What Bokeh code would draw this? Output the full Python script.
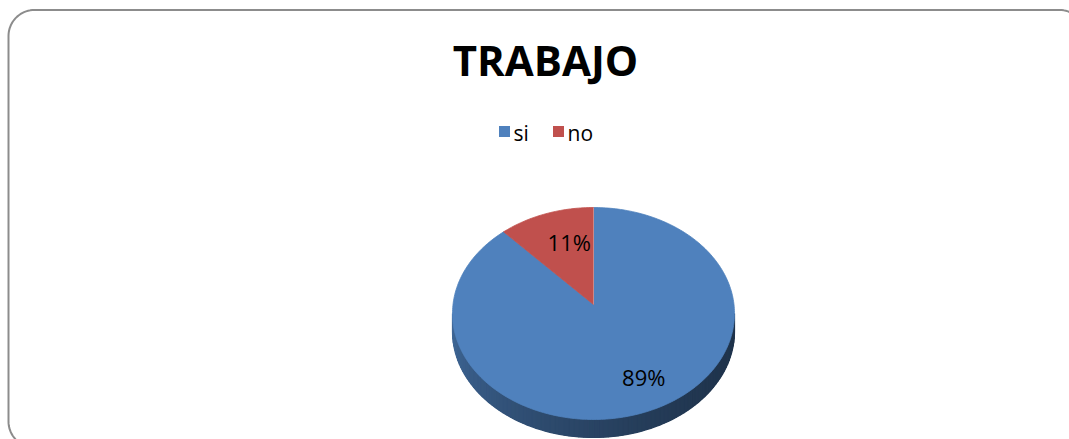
import numpy as np
from bokeh.plotting import figure
from bokeh.models import Range1d
from bokeh.core.properties import value
from bokeh.embed import file_html
from bokeh.resources import INLINE

# ---- data ----
title = "TRABAJO"
categories = ["si", "no"]
shares = [89, 11]
labels = ["89%", "11%"]
colors = ["#4F81BD", "#C0504D"]

# ---- layout (page pixel coordinates) ----
W, H = 1069, 439
p = figure(width=W, height=H, output_backend="svg", toolbar_location=None,
           x_range=Range1d(0, W), y_range=Range1d(H, 0),
           x_axis_type=None, y_axis_type=None, min_border=0)
p.grid.visible = False
p.outline_line_color = None
p.background_fill_color = "white"

# rounded frame
def rounded_rect(x0, y0, x1, y1, r, n=20):
    xs, ys = [], []
    corners = [(x1 - r, y0 + r, -90, 0), (x1 - r, y1 - r, 0, 90),
               (x0 + r, y1 - r, 90, 180), (x0 + r, y0 + r, 180, 270)]
    for cxx, cyy, a0, a1 in corners:
        for a in np.linspace(np.radians(a0), np.radians(a1), n):
            xs.append(cxx + r * np.cos(a))
            ys.append(cyy + r * np.sin(a))
    xs.append(xs[0]); ys.append(ys[0])
    return xs, ys

fx, fy = rounded_rect(8, 9.5, 1085, 447, 26)
p.line(fx, fy, line_color="#8c8c8c", line_width=2)

# pie geometry
cx, cy = 593.0, 313.0
rx, ry = 141.0, 106.0
apex = (593.0, 304.0)
depth = 18.0

vals = np.array(shares, dtype=float)
frac = vals / vals.sum()
starts = np.concatenate([[0.0], np.cumsum(frac)[:-1]]) * 360.0
ends = np.cumsum(frac) * 360.0

def ex(th):
    return cx + rx * np.sin(np.radians(th))

def ey(th):
    return cy - ry * np.cos(np.radians(th))

def hex2rgb(h):
    h = h.lstrip("#")
    return tuple(int(h[i:i + 2], 16) for i in (0, 2, 4))

def shade(h, f):
    r, g, b = hex2rgb(h)
    return "#%02x%02x%02x" % (int(r * f), int(g * f), int(b * f))

# side (visible lower half): base + shaded strips
ths = np.linspace(90, 270, 91)
base_x = list(ex(ths)) + list(ex(ths[::-1]))
base_y = list(ey(ths)) + list(ey(ths[::-1]) + depth)
p.patch(base_x, base_y, fill_color=shade(colors[0], 0.45), line_color=None)

side_xs, side_ys, side_cols = [], [], []
for a, b in zip(ths[:-1], ths[1:]):
    mid = (a + b) / 2
    idx = int(np.searchsorted(ends, mid % 360, side="right"))
    idx = min(idx, len(colors) - 1)
    t = (ex(mid) - (cx - rx)) / (2 * rx)
    f = 0.80 - 0.40 * t ** 0.55
    side_xs.append([ex(a), ex(b), ex(b), ex(a)])
    side_ys.append([ey(a), ey(b), ey(b) + depth, ey(a) + depth])
    side_cols.append(shade(colors[idx], f))
p.patches(side_xs, side_ys, fill_color=side_cols, line_color=side_cols, line_width=1.2)

# top face slices
top_xs, top_ys = [], []
for s, e in zip(starts, ends):
    th = np.linspace(s, e, max(8, int(e - s)))
    top_xs.append([apex[0]] + list(ex(th)))
    top_ys.append([apex[1]] + list(ey(th)))
p.patches(top_xs, top_ys, fill_color=colors, line_color=colors, line_width=0.8)
p.line([apex[0], ex(0)], [apex[1], ey(0)], line_color="#ffffff", line_width=0.6, line_alpha=0.5)

# data labels
mids = (starts + ends) / 2
lx = (cx + 13) + 0.78 * rx * np.sin(np.radians(mids))
ly = (cy - 4) - 0.68 * ry * np.cos(np.radians(mids))
p.text(lx, ly, text=labels, text_align="center", text_baseline="middle",
       text_font=value("Open Sans"), text_font_size=value("22px"), text_color="#000000")

# title
p.text([545], [59], text=[title], text_align="center", text_baseline="middle",
       text_font=value("Open Sans"), text_font_style="bold",
       text_font_size=value("42px"), text_color="#000000")

# legend
leg_x = [499, 553]
p.rect([x + 5 for x in leg_x], [131] * len(leg_x), width=11, height=11,
       fill_color=colors, line_color=None)
p.text([x + 14 for x in leg_x], [132] * len(leg_x), text=categories,
       text_align="left", text_baseline="middle",
       text_font=value("Open Sans"), text_font_size=value("21px"), text_color="#000000")

open("out.html", "w").write(file_html(p, INLINE))
